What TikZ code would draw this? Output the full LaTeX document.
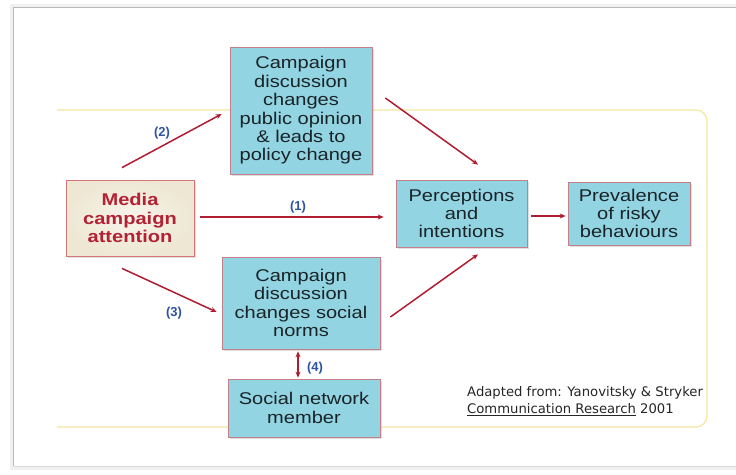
\documentclass[tikz,border=0pt]{standalone}
\usepackage{fontspec}
\usetikzlibrary{arrows.meta,shadows}
\setmainfont{Liberation Sans}
\newfontfamily\boxfont{Liberation Sans}[FakeStretch=1.18]
\newfontfamily\notefont{DejaVu Sans}
\definecolor{boxblue}{RGB}{146,212,226}
\definecolor{boxedge}{RGB}{196,128,138}
\definecolor{beige}{RGB}{238,231,211}
\definecolor{beigeedge}{RGB}{214,118,118}
\definecolor{mediared}{RGB}{178,34,52}
\definecolor{arrowred}{RGB}{176,28,48}
\definecolor{labelblue}{RGB}{47,84,160}
\definecolor{frameyellow}{RGB}{245,230,160}
\definecolor{boxtext}{RGB}{26,36,40}
\tikzset{
  x=1pt, y=-1pt,
  stepbox/.style={draw=boxedge, line width=0.7pt, fill=boxblue, text=boxtext,
    align=center, inner sep=0pt,
    font=\boxfont\fontsize{17}{18.4}\selectfont,
    drop shadow={opacity=0.25, shadow xshift=1.5pt, shadow yshift=-1.5pt}},
  sourcebox/.style={draw=beigeedge, line width=0.8pt, inner color=beige!45, outer color=beige,
    text=mediared, align=center, inner sep=0pt,
    font=\boxfont\bfseries\fontsize{17}{18.4}\selectfont,
    drop shadow={opacity=0.25, shadow xshift=1.5pt, shadow yshift=-1.5pt}},
  link/.style={draw=arrowred, line width=1.5pt, -{Stealth[length=6pt,width=5pt]}},
  bilink/.style={draw=arrowred, line width=1.5pt, {Stealth[length=6pt,width=5pt]}-{Stealth[length=6pt,width=5pt]}},
  pathlabel/.style={text=labelblue, font=\bfseries\fontsize{13}{15}\selectfont, inner sep=0pt}
}
\begin{document}
\begin{tikzpicture}
\useasboundingbox (0,0) rectangle (736,474);
\fill[white] (0,0) rectangle (736,474);
% slide frame with soft edge
\fill[gray!12] (10,4) rectangle (736,470);
\fill[white] (14,8) rectangle (736,466);
\draw[gray!55, line width=1.2pt] (13.5,466) -- (13.5,7.5) -- (736,7.5);
\draw[gray!30, line width=1pt] (13.5,466.5) -- (736,466.5);

% yellow grouping outline, open on the left
\draw[frameyellow, line width=1.2pt, rounded corners=11pt]
  (57,110) -- (707,110) -- (707,427) -- (57,427);

% boxes
\node[stepbox, minimum width=142pt, minimum height=127pt] (policy) at (301,110.5)
  {Campaign\\discussion\\changes\\public opinion\\\& leads to\\policy change};
\node[sourcebox, minimum width=128pt, minimum height=76pt] (media) at (130,218)
  {Media\\campaign\\attention};
\node[stepbox, minimum width=131pt, minimum height=67pt] (percep) at (461.5,213.5)
  {Perceptions\\and\\intentions};
\node[stepbox, minimum width=122pt, minimum height=63pt] (preval) at (629,213.5)
  {Prevalence\\of risky\\behaviours};
\node[stepbox, minimum width=158pt, minimum height=92pt] (norms) at (301,303)
  {Campaign\\discussion\\changes social\\norms};
\node[stepbox, minimum width=152pt, minimum height=58pt] (network) at (304,408)
  {Social network\\member};

% connectors
\draw[link] ([shift={(-8,-12)}]media.north) -- ([shift={(-8,3.5)}]policy.west);
\draw[link] ([shift={(13,-12.5)}]policy.east) -- ([shift={(16.5,-15)}]percep.north);
\draw[link] ([shift={(6,-1)}]media.east) -- ([shift={(-12,3.5)}]percep.west);
\draw[link] ([shift={(4,2.5)}]percep.east) -- ([shift={(-2,2.5)}]preval.west);
\draw[link] ([shift={(-8,12)}]media.south) -- ([shift={(-5,9)}]norms.west);
\draw[link] ([shift={(10,14)}]norms.east) -- ([shift={(16.5,7)}]percep.south);
\draw[bilink] ([shift={(-3,2)}]norms.south) -- ([shift={(-6,-1)}]network.north);

% path numbers
\node[pathlabel] (l2) at (162,133) {(2)};
\node[pathlabel] (l1) at (298,207) {(1)};
\node[pathlabel] (l3) at (174,313) {(3)};
\node[pathlabel] (l4) at (315,368) {(4)};

% source note
\node[anchor=north west, align=left, inner sep=0pt, text=black!85,
  font=\notefont\fontsize{13.2}{17}\selectfont] (note) at (467,386)
  {Adapted from: Yanovitsky \& Stryker\\\underline{Communication Research} 2001};
\end{tikzpicture}
\end{document}
